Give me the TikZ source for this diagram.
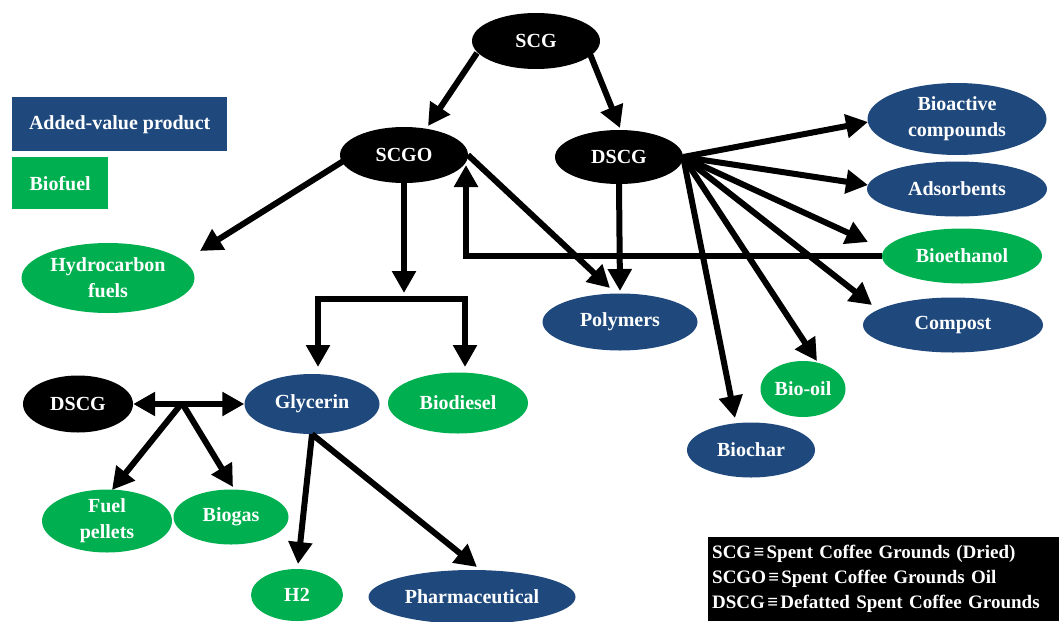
\documentclass[tikz,border=0pt]{standalone}
\usepackage{fontspec}
\setmainfont{Liberation Serif}
\usetikzlibrary{arrows.meta,shapes.geometric,calc}
\definecolor{prodblue}{RGB}{31,73,125}
\definecolor{fuelgreen}{RGB}{0,176,80}
\newcommand{\eqv}{\hspace{0.12em}≡\hspace{0.12em}}
\begin{document}
\begin{tikzpicture}[x=1pt,y=-1pt,
  lbl/.style={font=\bfseries\fontsize{20}{26}\selectfont, text=white, align=center},
  feed/.style={ellipse, fill=black, lbl, inner sep=0pt},
  prod/.style={ellipse, fill=prodblue, lbl, inner sep=0pt},
  fuel/.style={ellipse, fill=fuelgreen, lbl, inner sep=0pt},
  keybox/.style={rectangle, lbl, inner sep=0pt, anchor=north west},
  arr/.style={line width=6pt, -{Triangle[length=22pt,width=23pt]}},
  dbl/.style={line width=6pt, {Triangle[length=22pt,width=23pt]}-{Triangle[length=22pt,width=23pt]}}
]
\useasboundingbox[fill=white] (0,0) rectangle (1059,621);

% colour key
\node[keybox, fill=prodblue, minimum width=215pt, minimum height=54pt] (keyprod) at (12,97) {Added-value product};
\node[keybox, fill=fuelgreen, minimum width=96pt, minimum height=52pt] (keyfuel) at (12,157) {Biofuel};

% feedstocks
\node[feed, minimum width=128pt, minimum height=56pt] (scg) at (536,41) {SCG};
\node[feed, minimum width=128pt, minimum height=56pt] (scgo) at (404,155) {SCGO};
\node[feed, minimum width=128pt, minimum height=54pt] (dscg) at (619,157) {DSCG};
\node[feed, minimum width=110pt, minimum height=57pt] (dscgb) at (78,404) {DSCG};

% products of DSCG
\node[prod, minimum width=179pt, minimum height=72pt] (bioact) at (957,119) {Bioactive\\compounds};
\node[prod, minimum width=180pt, minimum height=55pt] (adsorb) at (957,189) {Adsorbents};
\node[fuel, minimum width=160pt, minimum height=55pt] (bioeth) at (962,256) {Bioethanol};
\node[prod, minimum width=180pt, minimum height=55pt] (compost) at (953,325) {Compost};
\node[fuel, minimum width=85pt, minimum height=56pt] (biooil) at (803,389) {Bio-oil};
\node[prod, minimum width=128pt, minimum height=55pt] (biochar) at (751,450) {Biochar};
\node[prod, minimum width=155pt, minimum height=57pt] (polym) at (620,322) {Polymers};

% products of SCGO
\node[fuel, minimum width=173pt, minimum height=70pt] (hydro) at (108,278) {Hydrocarbon\\fuels};
\node[prod, minimum width=135pt, minimum height=60pt] (glyc) at (312,404) {Glycerin};
\node[fuel, minimum width=140pt, minimum height=61pt] (biod) at (458,403) {Biodiesel};

% further conversion
\node[fuel, minimum width=130pt, minimum height=63pt] (pellet) at (107,521) {Fuel\\pellets};
\node[fuel, minimum width=115pt, minimum height=55pt] (biogas) at (231,517) {Biogas};
\node[fuel, minimum width=92pt, minimum height=52pt] (htwo) at (297,595) {H2};
\node[prod, minimum width=207pt, minimum height=54pt] (pharma) at (472,597) {Pharmaceutical};

% abbreviations
\node[anchor=north west, fill=black, text=white, align=left, inner xsep=4pt, inner ysep=0pt,
      text width=343pt, minimum height=84pt,
      font=\bfseries\fontsize{19}{25}\selectfont] (abbr) at (708,537)
  {SCG\eqv Spent Coffee Grounds (Dried)\\SCGO\eqv Spent Coffee Grounds Oil\\DSCG\eqv Defatted Spent Coffee Grounds};

% helper points
\coordinate (fork) at (404,299);
\coordinate (junc) at (182,403);

% SCG split
\draw[arr] ($(scg)+(-59,12)$) -- ($(scgo)+(24,-29)$);
\draw[arr] ($(scg)+(54,13)$) -- ($(dscg)+(1,-29)$);

% SCGO routes
\draw[arr] ($(scgo)+(-59,5)$) -- ($(hydro)+(92,-27)$);
\draw[arr] (scgo.south) -- ($(fork)+(0,-6)$);
\draw[arr] (fork) -| ($(glyc)+(6,-37)$);
\draw[arr] (fork) -| ($(biod)+(7,-36)$);
\draw[arr] ($(scgo)+(64,0)$) -- ($(polym)+(-10,-34)$);

% DSCG routes
\draw[arr] (dscg.south) -- ($(polym)+(0,-31)$);
\draw[arr] (dscg.east) -- ($(bioact)+(-89,3)$);
\draw[arr] (dscg.east) -- ($(adsorb)+(-89,-4)$);
\draw[arr] (dscg.east) -- ($(bioeth)+(-94,-14)$);
\draw[arr] (dscg.east) -- ($(compost)+(-81,-20)$);
\draw[arr] (dscg.east) -- ($(biooil)+(14,-28)$);
\draw[arr] (dscg.east) -- ($(biochar)+(-16,-32)$);

% bioethanol back to SCGO
\draw[arr] (bioeth.west) -| ($(scgo)+(62,10)$);

% glycerin and defatted grounds
\draw[dbl] (dscgb.east) -- (glyc.west);
\draw[arr] (junc) -- ($(pellet)+(5,-31)$);
\draw[arr] (junc) -- ($(biogas)+(2,-30)$);
\draw[arr] (glyc.south) -- ($(htwo)+(1,-31)$);
\draw[arr] (glyc.south) -- ($(pharma)+(5,-30)$);
\end{tikzpicture}
\end{document}
